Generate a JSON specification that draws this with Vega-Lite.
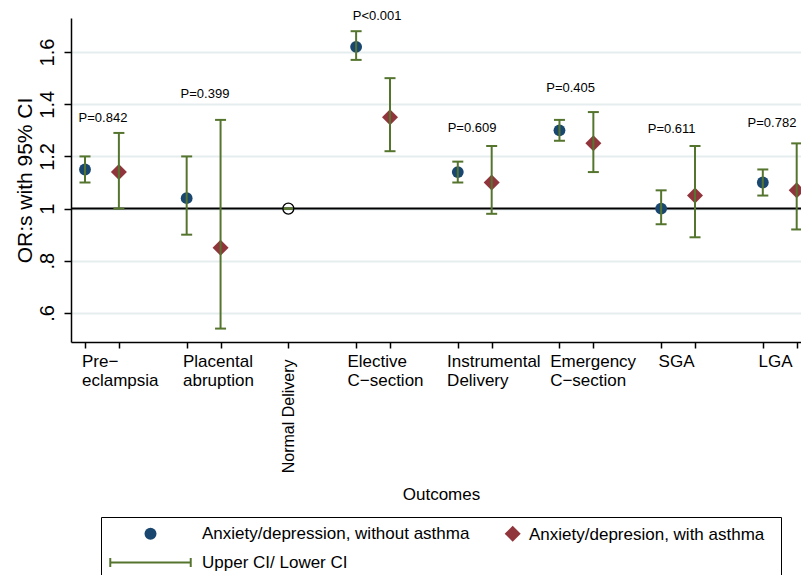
{
  "$schema": "https://vega.github.io/schema/vega-lite/v6.json",
  "autosize": {"type": "none"},
  "padding": {"left": 71, "top": 18, "right": 0, "bottom": 233},
  "width": 730,
  "height": 324,
  "background": "white",
  "config": {
    "font": "Liberation Sans",
    "view": {"stroke": null},
    "axis": {"labelColor": "black", "titleColor": "black", "domainColor": "black", "tickColor": "black"}
  },
  "resolve": {"axis": {"x": "independent"}},
  "datasets": {
    "est": [
      {"outcome": "Pre-eclampsia", "x": 1, "grp": "without", "or": 1.15, "lo": 1.10, "hi": 1.20},
      {"outcome": "Pre-eclampsia", "x": 2, "grp": "with", "or": 1.14, "lo": 1.00, "hi": 1.29},
      {"outcome": "Placental abruption", "x": 4, "grp": "without", "or": 1.04, "lo": 0.90, "hi": 1.20},
      {"outcome": "Placental abruption", "x": 5, "grp": "with", "or": 0.85, "lo": 0.54, "hi": 1.34},
      {"outcome": "Normal Delivery", "x": 7, "grp": "ref", "or": 1.00, "lo": 1.00, "hi": 1.00},
      {"outcome": "Elective C-section", "x": 9, "grp": "without", "or": 1.62, "lo": 1.57, "hi": 1.68},
      {"outcome": "Elective C-section", "x": 10, "grp": "with", "or": 1.35, "lo": 1.22, "hi": 1.50},
      {"outcome": "Instrumental Delivery", "x": 12, "grp": "without", "or": 1.14, "lo": 1.10, "hi": 1.18},
      {"outcome": "Instrumental Delivery", "x": 13, "grp": "with", "or": 1.10, "lo": 0.98, "hi": 1.24},
      {"outcome": "Emergency C-section", "x": 15, "grp": "without", "or": 1.30, "lo": 1.26, "hi": 1.34},
      {"outcome": "Emergency C-section", "x": 16, "grp": "with", "or": 1.25, "lo": 1.14, "hi": 1.37},
      {"outcome": "SGA", "x": 18, "grp": "without", "or": 1.00, "lo": 0.94, "hi": 1.07},
      {"outcome": "SGA", "x": 19, "grp": "with", "or": 1.05, "lo": 0.89, "hi": 1.24},
      {"outcome": "LGA", "x": 21, "grp": "without", "or": 1.10, "lo": 1.05, "hi": 1.15},
      {"outcome": "LGA", "x": 22, "grp": "with", "or": 1.07, "lo": 0.92, "hi": 1.25}
    ],
    "pv": [
      {"label": "P=0.842", "x": 1.53, "y": 1.347},
      {"label": "P=0.399", "x": 4.54, "y": 1.44},
      {"label": "P<0.001", "x": 9.62, "y": 1.739},
      {"label": "P=0.609", "x": 12.42, "y": 1.309},
      {"label": "P=0.405", "x": 15.33, "y": 1.462},
      {"label": "P=0.611", "x": 18.31, "y": 1.305},
      {"label": "P=0.782", "x": 21.27, "y": 1.328}
    ]
  },
  "layer": [
    {
      "data": {"values": [{}]},
      "mark": {"type": "rule", "color": "black", "strokeWidth": 2},
      "encoding": {"y": {"datum": 1, "type": "quantitative", "title": "OR:s with 95% CI"}}
    },
    {
      "data": {"name": "est"},
      "transform": [{"filter": "datum.grp == 'without'"}],
      "mark": {"type": "point", "shape": "circle", "filled": true, "opacity": 1, "size": 140, "color": "#1A476F", "strokeWidth": 0},
      "encoding": {
        "x": {
          "field": "x", "type": "quantitative",
          "scale": {"domain": [0.587, 22.127], "nice": false, "zero": false},
          "axis": {
            "orient": "bottom",
            "values": [1, 2, 4, 5, 7, 9, 10, 12, 13, 15, 16, 18, 19, 21, 22],
            "labels": false,
            "tickSize": 6,
            "tickWidth": 1.5,
            "domainWidth": 1.5,
            "grid": false,
            "title": null
          }
        },
        "y": {
          "field": "or", "type": "quantitative", "title": "OR:s with 95% CI",
          "scale": {"domain": [0.4886, 1.7306], "nice": false, "zero": false},
          "axis": {
            "values": [0.6, 0.8, 1, 1.2, 1.4, 1.6],
            "format": "~g",
            "labelExpr": "datum.value < 1 ? slice(datum.label, 1) : datum.label",
            "labelAngle": -90,
            "labelAlign": "center",
            "labelBaseline": "alphabetic",
            "labelFontSize": 20,
            "labelPadding": 10.5,
            "tickSize": 7,
            "tickWidth": 1.5,
            "domainWidth": 1.5,
            "grid": true,
            "gridColor": "#E5EDEF",
            "gridWidth": 2,
            "labelFlush": false,
            "labelOverlap": false,
            "titleFontSize": 21,
            "titleFontWeight": "normal",
            "titleX": -46,
            "titleAngle": -90,
            "titleBaseline": "middle"
          }
        }
      }
    },
    {
      "data": {"name": "est"},
      "transform": [{"filter": "datum.grp == 'with'"}],
      "mark": {"type": "point", "shape": "diamond", "filled": true, "opacity": 1, "size": 256, "color": "#90353B", "strokeWidth": 0},
      "encoding": {
        "x": {
          "field": "x", "type": "quantitative",
          "axis": {
            "orient": "bottom",
            "values": [0.897, 3.877, 8.73, 11.67, 14.71, 17.91, 20.86],
            "labelExpr": "abs(datum.value-0.897)<0.01 ? ['Pre−','eclampsia'] : abs(datum.value-3.877)<0.01 ? ['Placental','abruption'] : abs(datum.value-8.73)<0.01 ? ['Elective','C−section'] : abs(datum.value-11.67)<0.01 ? ['Instrumental','Delivery'] : abs(datum.value-14.71)<0.01 ? ['Emergency','C−section'] : abs(datum.value-17.91)<0.01 ? 'SGA' : 'LGA'",
            "labelAlign": "left",
            "labelBaseline": "top",
            "labelFontSize": 17,
            "labelLineHeight": 19,
            "labelPadding": 11,
            "ticks": false,
            "tickSize": 0,
            "domain": false,
            "grid": false,
            "labelOverlap": false,
            "labelFlush": false,
            "labelBound": false,
            "title": "Outcomes",
            "titleFontSize": 17,
            "titleFontWeight": "normal",
            "titleX": 370,
            "titleY": 157,
            "titleAlign": "center",
            "titleBaseline": "alphabetic"
          }
        },
        "y": {"field": "or", "type": "quantitative", "title": "OR:s with 95% CI"}
      }
    },
    {
      "data": {"name": "est"},
      "mark": {"type": "rule", "color": "#55752F", "strokeWidth": 2},
      "encoding": {
        "x": {"field": "x", "type": "quantitative", "axis": null},
        "y": {"field": "lo", "type": "quantitative", "title": "OR:s with 95% CI"},
        "y2": {"field": "hi"}
      }
    },
    {
      "data": {"name": "est"},
      "mark": {"type": "tick", "orient": "horizontal", "size": 11, "thickness": 2, "color": "#55752F", "opacity": 1},
      "encoding": {
        "x": {"field": "x", "type": "quantitative", "axis": null},
        "y": {"field": "lo", "type": "quantitative", "title": "OR:s with 95% CI"}
      }
    },
    {
      "data": {"name": "est"},
      "mark": {"type": "tick", "orient": "horizontal", "size": 11, "thickness": 2, "color": "#55752F", "opacity": 1},
      "encoding": {
        "x": {"field": "x", "type": "quantitative", "axis": null},
        "y": {"field": "hi", "type": "quantitative", "title": "OR:s with 95% CI"}
      }
    },
    {
      "data": {"name": "est"},
      "transform": [{"filter": "datum.grp == 'ref'"}],
      "mark": {"type": "point", "shape": "circle", "filled": false, "opacity": 1, "size": 121, "color": "black", "strokeWidth": 1.3},
      "encoding": {
        "x": {
          "field": "x", "type": "quantitative",
          "axis": {
            "orient": "bottom",
            "values": [7],
            "labelExpr": "'Normal Delivery'",
            "labelAngle": -90,
            "labelAlign": "right",
            "labelBaseline": "middle",
            "labelFontSize": 16,
            "labelPadding": 17,
            "ticks": false,
            "tickSize": 0,
            "domain": false,
            "grid": false,
            "labelOverlap": false,
            "labelFlush": false,
            "labelBound": false,
            "title": null
          }
        },
        "y": {"field": "or", "type": "quantitative", "title": "OR:s with 95% CI"}
      }
    },
    {
      "data": {"name": "pv"},
      "mark": {"type": "text", "fontSize": 13, "color": "black", "align": "center", "baseline": "middle"},
      "encoding": {
        "x": {"field": "x", "type": "quantitative", "axis": null},
        "y": {"field": "y", "type": "quantitative", "title": "OR:s with 95% CI"},
        "text": {"field": "label"}
      }
    },
    {
      "data": {"values": []},
      "mark": {"type": "point", "filled": true, "opacity": 1, "size": 144, "strokeWidth": 0},
      "encoding": {
        "shape": {
          "field": "leg", "type": "nominal",
          "scale": {
            "domain": ["Anxiety/depression, without asthma", "Anxiety/depresion, with asthma", "Upper CI/ Lower CI"],
            "range": ["circle", "M-1.133,0L0.2,-1.333L1.533,0L0.2,1.333Z M43.5,0", "M-6.87,-0.167H6.87V0.167H-6.87Z M-6.87,-0.75H-6.54V0.75H-6.87Z M6.54,-0.75H6.87V0.75H6.54Z"]
          },
          "legend": {
            "title": null,
            "orient": "none",
            "direction": "horizontal",
            "legendX": 30,
            "legendY": 499,
            "columns": 2,
            "columnPadding": 0,
            "rowPadding": 11,
            "padding": 8,
            "strokeColor": "black",
            "fillColor": null,
            "symbolSize": 144,
            "symbolStrokeWidth": 0,
            "symbolOffset": 33,
            "labelOffset": 43,
            "labelFontSize": 17,
            "labelColor": "black",
            "labelLimit": 400,
            "labelExpr": "datum.value == 'Anxiety/depresion, with asthma' ? '' : datum.label"
          }
        },
        "color": {
          "field": "leg", "type": "nominal",
          "scale": {
            "domain": ["Anxiety/depression, without asthma", "Anxiety/depresion, with asthma", "Upper CI/ Lower CI"],
            "range": ["#1A476F", "#90353B", "#55752F"]
          }
        }
      }
    },
    {
      "data": {"values": []},
      "mark": {"type": "point", "filled": true, "opacity": 1, "size": 1, "strokeWidth": 0},
      "encoding": {
        "fill": {
          "field": "legB", "type": "nominal",
          "scale": {"domain": ["Anxiety/depresion, with asthma"], "range": ["#90353B"]},
          "legend": {
            "title": null,
            "orient": "none",
            "legendX": 441,
            "legendY": 508,
            "padding": 0,
            "symbolSize": 1,
            "symbolOpacity": 0,
            "symbolStrokeWidth": 0,
            "symbolOffset": 0,
            "labelOffset": 0,
            "labelFontSize": 17,
            "labelColor": "black",
            "labelLimit": 400,
            "zindex": 2
          }
        }
      }
    }
  ]
}
